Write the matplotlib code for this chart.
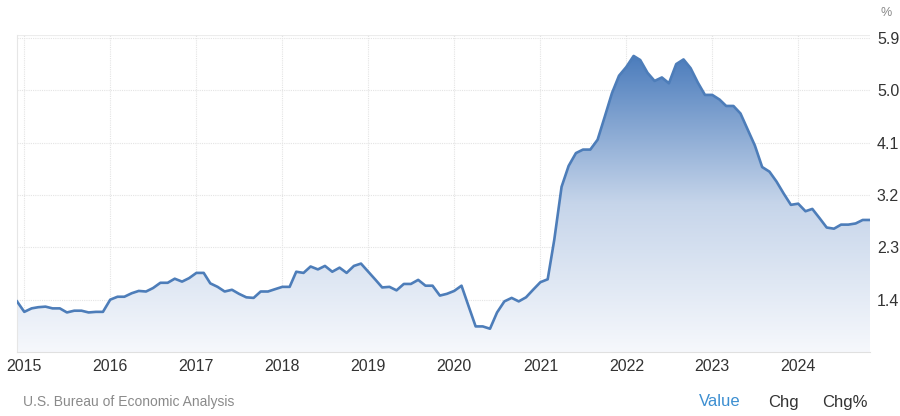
import matplotlib
matplotlib.use("Agg")
import matplotlib.pyplot as plt
import matplotlib.dates as mdates
from matplotlib.colors import LinearSegmentedColormap
import numpy as np
import pandas as pd

plt.rcParams["font.family"] = ["Liberation Sans", "DejaVu Sans"]

# monthly values, Dec 2014 .. Nov 2024 (%)
values = [
    1.37,
    1.19, 1.25, 1.27, 1.28, 1.25, 1.25, 1.18, 1.21, 1.21, 1.18, 1.19, 1.19,  # 2015
    1.40, 1.45, 1.45, 1.51, 1.55, 1.54, 1.60, 1.69, 1.69, 1.76, 1.71, 1.77,  # 2016
    1.86, 1.86, 1.68, 1.62, 1.54, 1.57, 1.50, 1.44, 1.43, 1.54, 1.54, 1.58,  # 2017
    1.62, 1.62, 1.88, 1.86, 1.97, 1.92, 1.98, 1.88, 1.95, 1.86, 1.98, 2.02,  # 2018
    1.88, 1.74, 1.61, 1.62, 1.56, 1.67, 1.67, 1.74, 1.64, 1.64, 1.47, 1.50,  # 2019
    1.55, 1.64, 1.30, 0.94, 0.94, 0.90, 1.18, 1.37, 1.43, 1.37, 1.44, 1.57,  # 2020
    1.70, 1.75, 2.43, 3.34, 3.70, 3.92, 3.98, 3.98, 4.15, 4.54, 4.95, 5.25,  # 2021
    5.40, 5.59, 5.52, 5.30, 5.16, 5.22, 5.12, 5.45, 5.53, 5.38, 5.13, 4.92,  # 2022
    4.92, 4.84, 4.73, 4.73, 4.60, 4.32, 4.05, 3.68, 3.60, 3.43, 3.22, 3.03,  # 2023
    3.05, 2.92, 2.96, 2.80, 2.64, 2.62, 2.69, 2.69, 2.71, 2.77, 2.77,        # 2024
]
dates = pd.date_range("2014-12-01", periods=len(values), freq="MS")
yticks = [1.4, 2.3, 3.2, 4.1, 5.0, 5.9]
years = list(range(2015, 2025))

line_col = "#4d7db9"
fig = plt.figure(figsize=(9, 4.16), dpi=100)
ax = fig.add_axes([17 / 900, 1 - 352 / 416, (870 - 17) / 900, (352 - 35) / 416])
ax.set_axisbelow(True)

ymin, ymax = 0.5, 5.95
x = mdates.date2num(dates)
xlo, xhi = x[0], x[-1]

# gradient fill under the line
cmap = LinearSegmentedColormap.from_list("g", ["#f6f8fc", "#c6d5ea", "#4b7cbc"])
grad = np.linspace(0, 1, 256).reshape(-1, 1)
im = ax.imshow(grad, cmap=cmap, aspect="auto", origin="lower",
               extent=[xlo, xhi, ymin, 5.6], zorder=1)
poly = ax.fill_between(x, values, ymin, color="none", lw=0)
im.set_clip_path(poly.get_paths()[0], transform=ax.transData)

ax.plot(x, values, color=line_col, lw=1.9, zorder=3, solid_joinstyle="round")

ax.set_xlim(xlo, xhi)
ax.set_ylim(ymin, ymax)

ax.set_xticks([mdates.date2num(pd.Timestamp(f"{y}-01-01")) for y in years])
ax.set_xticklabels([str(y) for y in years])
ax.set_yticks(yticks)
ax.set_yticklabels([f"{v:.1f}" for v in yticks])
ax.yaxis.tick_right()
ax.tick_params(axis="both", length=0, labelsize=11.5, colors="#333333")
ax.tick_params(axis="y", pad=5)
ax.tick_params(axis="x", pad=5)

ax.grid(True, color="#e4e4e4", lw=0.8, ls=(0, (1, 1)))
for s in ["top", "right"]:
    ax.spines[s].set_visible(False)
ax.spines["left"].set_color("#e6e6e6")
ax.spines["bottom"].set_color("#e0e0e0")
ax.axhline(ymax, color="#ececec", lw=0.8, zorder=0)

fig.text(886 / 900, 1 - 13 / 416, "%", fontsize=9, color="#888888", ha="center", va="center")
fig.text(23 / 900, 1 - 402 / 416, "U.S. Bureau of Economic Analysis", fontsize=10,
         color="#8a8a8a", ha="left", va="center")
fig.text(720 / 900, 1 - 402 / 416, "Value", fontsize=12, color="#3d8fd1", ha="center", va="center")
fig.text(783 / 900, 1 - 402 / 416, "Chg", fontsize=12, color="#333333", ha="center", va="center")
fig.text(845 / 900, 1 - 402 / 416, "Chg%", fontsize=12, color="#333333", ha="center", va="center")

fig.savefig("out.png", dpi=100)
